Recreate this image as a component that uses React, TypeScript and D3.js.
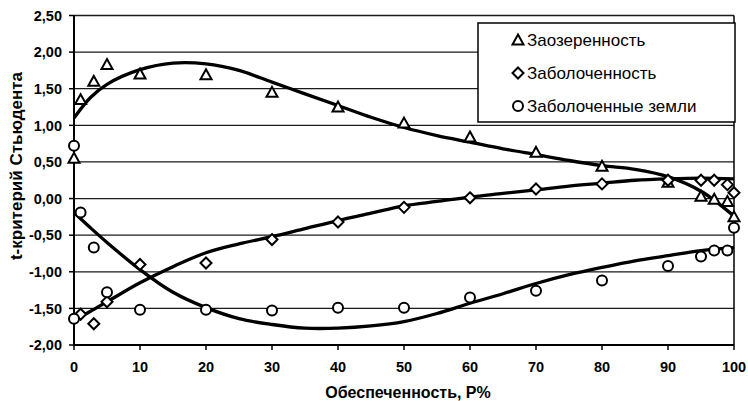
import React from "react";
import * as d3 from "d3";

const xTicks = [0, 10, 20, 30, 40, 50, 60, 70, 80, 90, 100];
const yTicks = [-2, -1.5, -1, -0.5, 0, 0.5, 1, 1.5, 2, 2.5];

// Заозеренность (triangles)
const lakeX = [0, 1, 3, 5, 10, 20, 30, 40, 50, 60, 70, 80, 90, 95, 97, 99, 100];
const lakeY = [0.55, 1.35, 1.6, 1.83, 1.7, 1.69, 1.45, 1.25, 1.03, 0.84, 0.63, 0.44, 0.22, 0.03, -0.01, -0.04, -0.25];
// Заболоченность (diamonds)
const swampX = [1, 3, 5, 10, 20, 30, 40, 50, 60, 70, 80, 90, 95, 97, 99, 100];
const swampY = [-1.58, -1.71, -1.41, -0.9, -0.88, -0.56, -0.32, -0.12, 0.01, 0.13, 0.2, 0.25, 0.25, 0.25, 0.19, 0.08];
// Заболоченные земли (circles)
const wetX = [0, 0, 1, 3, 5, 10, 20, 30, 40, 50, 60, 70, 80, 90, 95, 97, 99, 100];
const wetY = [0.72, -1.64, -0.19, -0.67, -1.28, -1.52, -1.52, -1.53, -1.49, -1.49, -1.35, -1.26, -1.12, -0.92, -0.79, -0.71, -0.71, -0.4];

// Trend curves
const trendX = [0, 2.5, 5, 10, 15, 20, 25, 30, 35, 40, 45, 50, 55, 60, 65, 70, 75, 80, 85, 90, 95, 100];
const lakeTrend = [1.1, 1.38, 1.56, 1.76, 1.85, 1.84, 1.75, 1.59, 1.43, 1.27, 1.11, 0.97, 0.86, 0.77, 0.68, 0.6, 0.52, 0.45, 0.4, 0.3, 0.1, -0.24];
const swampTrend = [-1.66, -1.54, -1.41, -1.15, -0.93, -0.74, -0.62, -0.52, -0.41, -0.3, -0.2, -0.1, -0.04, 0.02, 0.07, 0.12, 0.17, 0.21, 0.25, 0.27, 0.28, 0.27];
const wetTrend = [-0.19, -0.4, -0.6, -0.97, -1.28, -1.49, -1.64, -1.72, -1.77, -1.77, -1.74, -1.68, -1.57, -1.43, -1.3, -1.16, -1.04, -0.94, -0.85, -0.78, -0.71, -0.67];

const legendLabels = ["Заозеренность", "Заболоченность", "Заболоченные земли"];

const W = 748, H = 401;
const x = d3.scaleLinear().domain([0, 100]).range([74, 734]);
const y = d3.scaleLinear().domain([-2, 2.5]).range([345, 15.5]);
const font = "'Liberation Sans', Arial, sans-serif";
const fmt = (v: number) => v.toFixed(2).replace(".", ",");

function Marker({ kind, cx, cy }: { kind: string; cx: number; cy: number }) {
  const sw = 2;
  if (kind === "tri") {
    const s = 5.5;
    return <path d={`M${cx},${cy - s} L${cx + s},${cy + s * 0.8} L${cx - s},${cy + s * 0.8} Z`} fill="white" stroke="#000" strokeWidth={sw} />;
  }
  if (kind === "dia") {
    const s = 5.5;
    return <path d={`M${cx},${cy - s} L${cx + s},${cy} L${cx},${cy + s} L${cx - s},${cy} Z`} fill="white" stroke="#000" strokeWidth={sw} />;
  }
  return <circle cx={cx} cy={cy} r={5} fill="white" stroke="#000" strokeWidth={sw} />;
}

export default function App() {
  const line = d3.line<[number, number]>().x(d => x(d[0])).y(d => y(d[1])).curve(d3.curveCatmullRom.alpha(0.5));
  const mk = (ys: number[]) => line(trendX.map((v, i) => [v, ys[i]] as [number, number])) || "";
  const lx = 478, ly = 23, lw = 257, lh = 99;
  return (
    <svg width={W} height={H} style={{ position: "absolute", left: 0, top: 0, background: "#fff" }} fontFamily={font}>
      <rect x={0} y={0} width={W} height={H} fill="#fff" />
      {yTicks.map(t => (
        <g key={t}>
          <line x1={x(0)} x2={x(100)} y1={y(t)} y2={y(t)} stroke="#1a1a1a" strokeWidth={1.3} />
          <line x1={x(0) - 5} x2={x(0)} y1={y(t)} y2={y(t)} stroke="#000" strokeWidth={1.5} />
          <text x={62} y={y(t)} dy="0.36em" textAnchor="end" fontSize={14.5} fontWeight="bold">{fmt(t)}</text>
        </g>
      ))}
      <line x1={x(100)} x2={x(100)} y1={y(2.5)} y2={y(-2)} stroke="#000" strokeWidth={1.5} />
      <line x1={x(0)} x2={x(0)} y1={y(2.5)} y2={y(-2)} stroke="#000" strokeWidth={2} />
      <line x1={x(0)} x2={x(100)} y1={y(-2)} y2={y(-2)} stroke="#000" strokeWidth={2} />
      {xTicks.map(t => (
        <g key={t}>
          <line x1={x(t)} x2={x(t)} y1={y(-2)} y2={y(-2) + 5} stroke="#000" strokeWidth={1.5} />
          <text x={x(t)} y={372} textAnchor="middle" fontSize={14.5} fontWeight="bold">{t}</text>
        </g>
      ))}
      <path d={mk(lakeTrend)} fill="none" stroke="#000" strokeWidth={3.3} />
      <path d={mk(swampTrend)} fill="none" stroke="#000" strokeWidth={3.3} />
      <path d={mk(wetTrend)} fill="none" stroke="#000" strokeWidth={3.3} />
      {lakeX.map((v, i) => <Marker key={"t" + i} kind="tri" cx={x(v)} cy={y(lakeY[i])} />)}
      {swampX.map((v, i) => <Marker key={"d" + i} kind="dia" cx={x(v)} cy={y(swampY[i])} />)}
      {wetX.map((v, i) => <Marker key={"c" + i} kind="cir" cx={x(v)} cy={y(wetY[i])} />)}
      <rect x={lx} y={ly} width={lw} height={lh} fill="#fff" stroke="#000" strokeWidth={1.5} />
      {legendLabels.map((lab, i) => {
        const cy = 40 + i * 33;
        return (
          <g key={lab}>
            <Marker kind={["tri", "dia", "cir"][i]} cx={518} cy={cy} />
            <text x={527} y={cy} dy="0.36em" fontSize={17}>{lab}</text>
          </g>
        );
      })}
      <text x={408} y={398} textAnchor="middle" fontSize={16} fontWeight="bold">Обеспеченность, P%</text>
      <text transform={`translate(22,166) rotate(-90)`} textAnchor="middle" fontSize={17} fontWeight="bold">t-критерий Стьюдента</text>
    </svg>
  );
}
